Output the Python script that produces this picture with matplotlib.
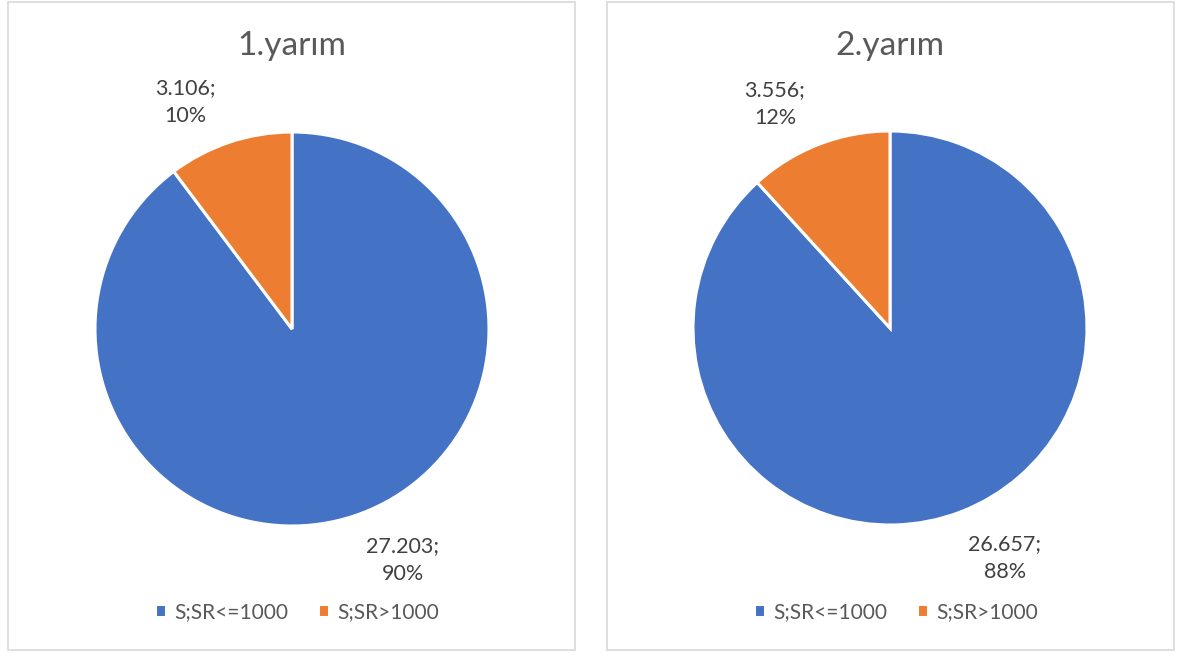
import matplotlib
matplotlib.use("Agg")
import matplotlib.pyplot as plt
from matplotlib.patches import Rectangle

plt.rcParams['font.family'] = ['Lato', 'DejaVu Sans']

titles = ["1.yarım", "2.yarım"]
categories = ["S;SR<=1000", "S;SR>1000"]
values_1 = [27203, 3106]
values_2 = [26657, 3556]
series = [values_1, values_2]

colors = ["#4472C4", "#ED7D31"]
W, H = 1179, 657
fig = plt.figure(figsize=(W / 100, H / 100), dpi=100)
fig.patch.set_facecolor("white")

# panel boxes (pixels: left, top, right, bottom)
boxes = [(8, 2, 575, 650), (607, 2, 1174, 650)]
for (l, t, r, b) in boxes:
    fig.patches.append(Rectangle((l / W, 1 - b / H), (r - l) / W, (b - t) / H,
                                 transform=fig.transFigure, fill=False,
                                 edgecolor="#D9D9D9", linewidth=1.2))

centers = [(292, 329), (890, 328)]
R = 197
L = 1.4
label_pos = [[(0.563, -1.173), (-0.543, 1.152)],
             [(0.584, -1.168), (-0.584, 1.137)]]
legend_centers = [(297, 612), (896, 612)]
title_y = 46


def fmt_num(v):
    return f"{v:,}".replace(",", ".")


for i, (cx, cy) in enumerate(centers):
    size = 2 * L * R
    ax = fig.add_axes([(cx - size / 2) / W, (H - cy - size / 2) / H, size / W, size / H])
    vals = series[i]
    wedges, _ = ax.pie(vals, colors=colors, startangle=90, counterclock=False,
                       radius=1, wedgeprops=dict(edgecolor="white", linewidth=2.2))
    ax.set_xlim(-L, L)
    ax.set_ylim(-L, L)
    ax.set_aspect("equal")
    ax.axis("off")
    tot = sum(vals)
    for j, v in enumerate(vals):
        pct = round(100 * v / tot)
        x, y = label_pos[i][j]
        ax.text(x, y, f"{fmt_num(v)};\n{pct}%", ha="center", va="center",
                fontsize=15.5, color="#404040", linespacing=1.5)
    fig.text(cx / W, 1 - title_y / H, titles[i], ha="center", va="center",
             fontsize=24, color="#595959")
    lx, ly = legend_centers[i]
    fig.legend(wedges, categories, loc="center", bbox_to_anchor=(lx / W, 1 - ly / H),
               ncol=2, frameon=False, fontsize=15, labelcolor="#595959",
               handlelength=0.55, handleheight=0.55, handletextpad=0.4,
               columnspacing=1.4)

fig.savefig("out.png", dpi=100, facecolor="white")
